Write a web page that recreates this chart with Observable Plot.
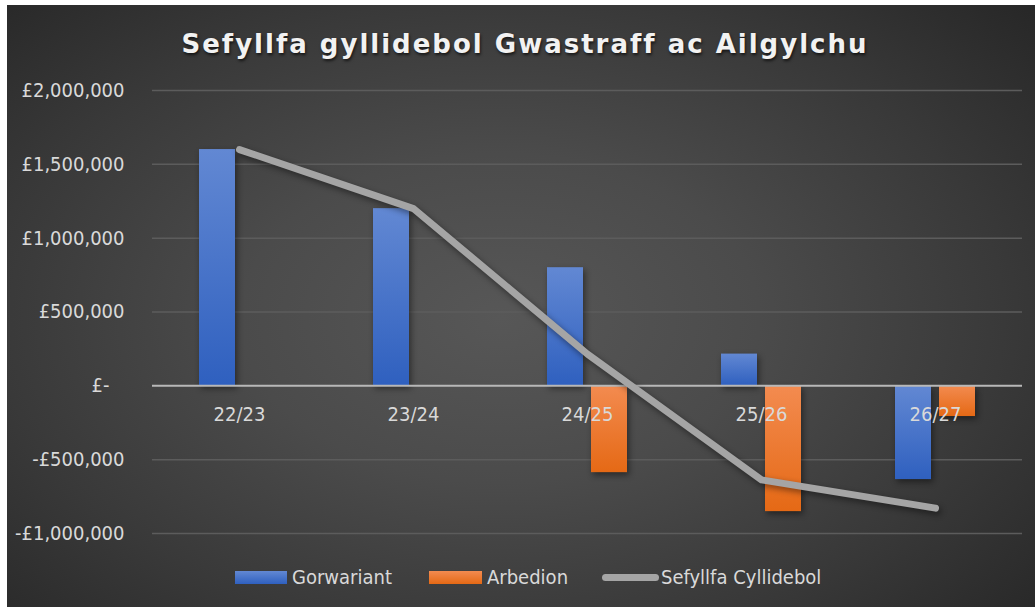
<!DOCTYPE html>
<html>
<head>
<meta charset="utf-8">
<script src="https://cdn.jsdelivr.net/npm/d3@7"></script>
<script src="https://cdn.jsdelivr.net/npm/@observablehq/plot@0.6"></script>
<style>
  html, body { margin: 0; padding: 0; background: #ffffff; }
  #page { position: relative; width: 1035px; height: 607px; overflow: hidden; }
  #bg { position: absolute; left: 7px; top: 5px; width: 1028px; height: 602px;
        background: radial-gradient(ellipse 72% 78% at 48% 52%, #575757 0%, #4b4b4b 35%, #393939 68%, #262626 100%); }
  #title { position: absolute; left: 0; top: 26px; width: 1050px; text-align: center;
           font-family: "DejaVu Sans", sans-serif; font-weight: bold; font-size: 26px; letter-spacing: 2px;
           color: #f2f2f2; text-shadow: 1px 2px 3px rgba(0,0,0,0.65); line-height: 36px; }
  #chart { position: absolute; left: 0; top: 75px; }
  #legend { position: absolute; left: 0; top: 563px; width: 1035px; height: 28px;
            font-family: "DejaVu Sans Condensed", "DejaVu Sans", sans-serif; font-size: 20px; color: #d9d9d9; }
  .item { position: absolute; top: 0; height: 28px; display: flex; align-items: center; }
  .sw { display: inline-block; margin-right: 5px; }
</style>
</head>
<body>
<div id="page">
  <div id="bg"></div>
  <div id="title">Sefyllfa gyllidebol Gwastraff ac Ailgylchu</div>
  <div id="chart"></div>
  <div id="legend"></div>
</div>
<script>
// ---- data ----
const categories = ["22/23", "23/24", "24/25", "25/26", "26/27"];
const gorwariant = [1600000, 1200000, 800000, 215000, -635000];
const arbedion = [0, 0, -588000, -852000, -208000];
const sefyllfa = [1600000, 1200000, 215000, -637000, -828000];
const yTicks = [-1000000, -500000, 0, 500000, 1000000, 1500000, 2000000];
const seriesNames = ["Gorwariant", "Arbedion", "Sefyllfa Cyllidebol"];

// ---- tables ----
const blueRows = categories.map((c, i) => ({cat: c, value: gorwariant[i]})).filter(d => d.value !== 0);
const orangeRows = categories.map((c, i) => ({cat: c, value: arbedion[i]})).filter(d => d.value !== 0);
const lineRows = categories.map((c, i) => ({cat: c, value: sefyllfa[i]}));

const fmt = d3.format(",");
const tickFormat = d => d === 0 ? "£-\u2007\u2009" : (d < 0 ? "-" : "") + "£" + fmt(Math.abs(d));

const defs = () => {
  const g = d3.create("svg:defs");
  const b = g.append("linearGradient").attr("id", "gBlue").attr("x1", 0).attr("x2", 0).attr("y1", 0).attr("y2", 1);
  b.append("stop").attr("offset", "0%").attr("stop-color", "#6288d3");
  b.append("stop").attr("offset", "100%").attr("stop-color", "#2f60bf");
  const o = g.append("linearGradient").attr("id", "gOrange").attr("x1", 0).attr("x2", 0).attr("y1", 0).attr("y2", 1);
  o.append("stop").attr("offset", "0%").attr("stop-color", "#f38b50");
  o.append("stop").attr("offset", "100%").attr("stop-color", "#e56915");
  return g.node();
};

const chart = Plot.plot({
  width: 1035,
  height: 475,
  marginLeft: 152,
  marginRight: 13,
  marginTop: 15,
  marginBottom: 17,
  style: {background: "transparent", color: "#d9d9d9", fontFamily: "'DejaVu Sans Condensed', 'DejaVu Sans', sans-serif", fontSize: "20px", overflow: "visible"},
  x: {type: "band", domain: categories, padding: 0, axis: null},
  y: {domain: [-1000000, 2000000], axis: null},
  marks: [
    defs,
    Plot.ruleY(yTicks.filter(d => d !== 0), {stroke: "#5c5c5c", strokeWidth: 1.5}),
    Plot.axisY(yTicks, {tickSize: 0, tickPadding: 28, tickFormat, fontSize: 20, fill: "#d9d9d9", label: null}),
    Plot.barY(blueRows, {x: "cat", y: "value", fill: "url(#gBlue)", insetLeft: 47, insetRight: 91}),
    Plot.barY(orangeRows, {x: "cat", y: "value", fill: "url(#gOrange)", insetLeft: 91, insetRight: 47}),
    Plot.ruleY([0], {stroke: "#b8b8b8", strokeWidth: 2}),
    Plot.text(categories, {x: d => d, y: () => 0, dy: 29, fontSize: 20, fill: "#d9d9d9"}),
    Plot.line(lineRows, {x: "cat", y: "value", stroke: "#a5a5a5", strokeWidth: 7, strokeLinecap: "round", strokeLinejoin: "round"})
  ]
});
chart.querySelectorAll('g[aria-label="bar"]').forEach(g => g.style.filter = "drop-shadow(2px 3px 3px rgba(0,0,0,0.45))");
chart.querySelectorAll('g[aria-label="line"]').forEach(g => g.style.filter = "drop-shadow(2px 3px 3px rgba(0,0,0,0.45))");
document.getElementById("chart").appendChild(chart);

// ---- legend ----
const legend = document.getElementById("legend");
const legendItems = [
  {name: seriesNames[0], left: 235, sw: "width:52px;height:13px;background:linear-gradient(#6288d3,#2f60bf);"},
  {name: seriesNames[1], left: 429, sw: "width:53px;height:13px;background:linear-gradient(#f38b50,#e56915);"},
  {name: seriesNames[2], left: 602, sw: "width:57px;height:7px;border-radius:4px;background:#a5a5a5;margin-right:2px;"}
];
legendItems.forEach(it => {
  const d = document.createElement("div");
  d.className = "item";
  d.style.left = it.left + "px";
  d.innerHTML = `<span class="sw" style="${it.sw}"></span><span>${it.name}</span>`;
  legend.appendChild(d);
});
</script>
</body>
</html>
